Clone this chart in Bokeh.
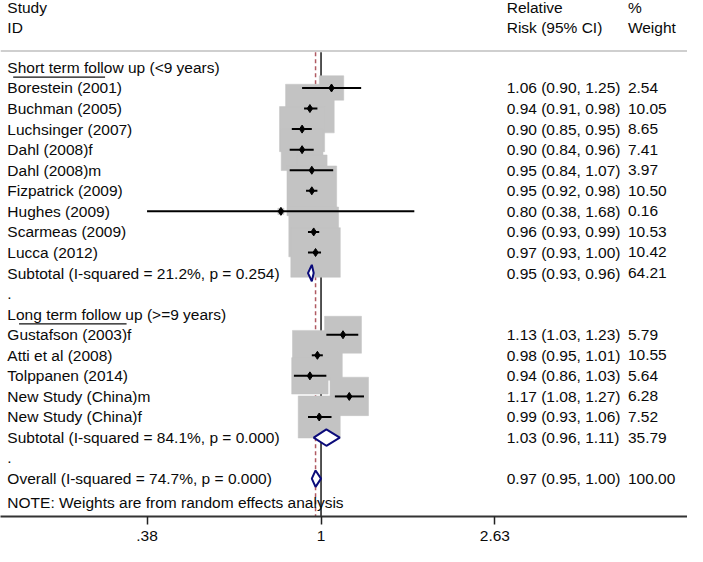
import math
from bokeh.plotting import figure
from bokeh.models import Range1d, FixedTicker, ColumnDataSource, Span, LinearScale
from bokeh.core.properties import value
from bokeh.embed import file_html
from bokeh.resources import INLINE

# ---------------- data ----------------
short_studies = ["Borestein (2001)", "Buchman (2005)", "Luchsinger (2007)", "Dahl (2008)f",
                 "Dahl (2008)m", "Fizpatrick (2009)", "Hughes (2009)", "Scarmeas (2009)", "Lucca (2012)"]
short_rr = [1.06, 0.94, 0.90, 0.90, 0.95, 0.95, 0.80, 0.96, 0.97]
short_lo = [0.90, 0.91, 0.85, 0.84, 0.84, 0.92, 0.38, 0.93, 0.93]
short_hi = [1.25, 0.98, 0.95, 0.96, 1.07, 0.98, 1.68, 0.99, 1.00]
short_w = [2.54, 10.05, 8.65, 7.41, 3.97, 10.50, 0.16, 10.53, 10.42]

long_studies = ["Gustafson (2003)f", "Atti et al (2008)", "Tolppanen (2014)",
                "New Study (China)m", "New Study (China)f"]
long_rr = [1.13, 0.98, 0.94, 1.17, 0.99]
long_lo = [1.03, 0.95, 0.86, 1.08, 0.93]
long_hi = [1.23, 1.01, 1.03, 1.27, 1.06]
long_w = [5.79, 10.55, 5.64, 6.28, 7.52]

summary_labels = ["Subtotal  (I-squared = 21.2%, p = 0.254)",
                  "Subtotal  (I-squared = 84.1%, p = 0.000)",
                  "Overall  (I-squared = 74.7%, p = 0.000)"]
summary_rr = [0.95, 1.03, 0.97]
summary_lo = [0.93, 0.96, 0.95]
summary_hi = [0.96, 1.11, 1.00]
summary_w = [64.21, 35.79, 100.00]

group_labels = ["Short  term follow up (<9 years)", "Long term follow up (>=9 years)"]
header_left = ["Study", "ID"]
header_rr = ["Relative", "Risk (95% CI)"]
header_w = ["%", "Weight"]
note = "NOTE: Weights are from random effects analysis"

tick_values = [0.38, 1, 2.63]
tick_labels = [".38", "1", "2.63"]

# ---------------- layout (reference pixel space 703 x 562) ----------------
FONT = "Liberation Sans"
FS = "15.5px"
TXT = "#0a0a0a"
REF_W, REF_AXIS_Y = 703.0, 532.0
PX_PER_LN = 184.0
X_ONE = 328.0
ROW0_Y, ROW_H = 69.0, 21.2
FRAME_W, FRAME_H = 687, 516
SCALE = FRAME_W / REF_W


def row_of(ref_y):
    return (ref_y - ROW0_Y) / ROW_H


short_rows = list(range(1, 1 + len(short_studies)))
sub1_row = short_rows[-1] + 1
dot1_row = sub1_row + 1
long_hdr_row = dot1_row + 1
long_rows = list(range(long_hdr_row + 1, long_hdr_row + 1 + len(long_studies)))
sub2_row = long_rows[-1] + 1
dot2_row = sub2_row + 1
overall_row = dot2_row + 1
note_row = overall_row + 1.15
summary_rows = [sub1_row, sub2_row, overall_row]
hdr_rows = [row_of(7), row_of(28)]
sep_row = row_of(52)
axis_row = row_of(REF_AXIS_Y)
top_row = row_of(0)

xmin = math.exp((0 - X_ONE) / PX_PER_LN)
xmax = math.exp((REF_W - X_ONE) / PX_PER_LN)

p = figure(frame_width=FRAME_W, frame_height=FRAME_H, x_axis_type="log",
           x_range=Range1d(xmin, xmax), y_range=Range1d(axis_row, top_row),
           y_axis_location=None, toolbar_location=None, output_backend="svg",
           min_border_left=0, min_border_right=0, min_border_top=0, min_border_bottom=0,
           background_fill_color="white", border_fill_color="white")
p.outline_line_color = None
p.grid.visible = False
p.extra_x_ranges = {"px": Range1d(0, REF_W)}
p.extra_x_scales = {"px": LinearScale()}

# separator line
p.add_layout(Span(location=sep_row, dimension="width", line_color="#cfcfcf", line_width=2))

# reference lines
p.segment(x0=[1], y0=[sep_row + 0.06], x1=[1], y1=[axis_row], line_color="#1a1a1a", line_width=1.5)
p.segment(x0=[summary_rr[2]], y0=[sep_row + 0.06], x1=[summary_rr[2]], y1=[axis_row],
          line_color="#b05a62", line_width=1.5, line_dash="4 3")

# study data
all_rr = short_rr + long_rr
all_lo = short_lo + long_lo
all_hi = short_hi + long_hi
all_w = short_w + long_w
all_rows = short_rows + long_rows
sizes = [15.7 * SCALE * math.sqrt(w) for w in all_w]
src = ColumnDataSource(dict(rr=all_rr, lo=all_lo, hi=all_hi, y=all_rows, s=sizes))

p.scatter(x="rr", y="y", size="s", marker="square", source=src,
          fill_color="#c3c3c3", line_color="#c3c3c3", line_width=0.5)
p.segment(x0="lo", y0="y", x1="hi", y1="y", source=src, line_color="black", line_width=2)
p.scatter(x="rr", y="y", size=8, marker="diamond", source=src,
          fill_color="black", line_color="black")

# summary diamonds
h = 0.40
xs = [[lo, est, hi, est] for lo, est, hi in zip(summary_lo, summary_rr, summary_hi)]
ys = [[y, y - h, y, y + h] for y in summary_rows]
p.patches(xs=xs, ys=ys, fill_color="white", line_color="#0b0b7a", line_width=2)

# ---------------- texts ----------------
left_text, left_y = [], []
left_text += header_left; left_y += hdr_rows
left_text.append(group_labels[0]); left_y.append(0)
left_text += short_studies; left_y += short_rows
left_text.append(summary_labels[0]); left_y.append(sub1_row)
left_text.append("."); left_y.append(dot1_row)
left_text.append(group_labels[1]); left_y.append(long_hdr_row)
left_text += long_studies; left_y += long_rows
left_text.append(summary_labels[1]); left_y.append(sub2_row)
left_text.append("."); left_y.append(dot2_row)
left_text.append(summary_labels[2]); left_y.append(overall_row)
left_text.append(note); left_y.append(note_row)

p.text(x=[7] * len(left_text), y=left_y, text=left_text, x_range_name="px",
       text_font=value(FONT), text_font_size=FS, text_color=TXT,
       text_align="left", text_baseline="middle")

est_rr = short_rr + long_rr + summary_rr
est_lo = short_lo + long_lo + summary_lo
est_hi = short_hi + long_hi + summary_hi
est_w = short_w + long_w + summary_w
est_rows = short_rows + long_rows + summary_rows
ci_text = [f"{r:.2f} ({l:.2f}, {u:.2f})" for r, l, u in zip(est_rr, est_lo, est_hi)]
w_text = [f"{w:.2f}" for w in est_w]

p.text(x=[518] * (len(ci_text) + 2), y=hdr_rows + est_rows, text=header_rr + ci_text,
       x_range_name="px", text_font=value(FONT), text_font_size=FS, text_color=TXT,
       text_align="left", text_baseline="middle")
p.text(x=[642] * (len(w_text) + 2), y=hdr_rows + est_rows, text=header_w + w_text,
       x_range_name="px", text_font=value(FONT), text_font_size=FS, text_color=TXT,
       text_align="left", text_baseline="middle")

# underlines
p.segment(x0=[13, 19], y0=[0.47, long_hdr_row + 0.47], x1=[107, 129], y1=[0.47, long_hdr_row + 0.47],
          x_range_name="px", line_color="#111111", line_width=1.2)

# ---------------- axis ----------------
ax = p.xaxis[0]
ax.ticker = FixedTicker(ticks=tick_values)
ax.major_label_overrides = {v: l for v, l in zip(tick_values, tick_labels)}
ax.minor_tick_line_color = None
ax.major_tick_in = 0
ax.major_tick_out = 8
ax.major_tick_line_color = "#222222"
ax.major_tick_line_width = 1.5
ax.axis_line_color = "#333333"
ax.axis_line_width = 2
ax.major_label_standoff = 6
ax.major_label_text_font = FONT
ax.major_label_text_font_size = FS
ax.major_label_text_color = TXT

open("out.html", "w").write(file_html(p, INLINE))
